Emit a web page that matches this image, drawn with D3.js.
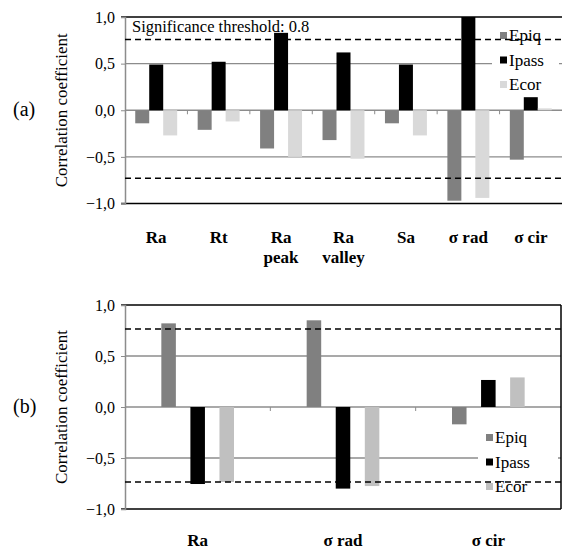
<!DOCTYPE html>
<html>
<head>
<meta charset="utf-8">
<script src="https://cdn.jsdelivr.net/npm/d3@7"></script>
</head>
<body style="margin:0">
<script>
// panel (a)
var catsA  = ["Ra", "Rt", "Ra|peak", "Ra|valley", "Sa", "\u03c3 rad", "\u03c3 cir"];
var epiqA  = [-0.14, -0.21, -0.41, -0.32, -0.14, -0.97, -0.53];
var ipassA = [0.49, 0.52, 0.83, 0.62, 0.49, 1.0, 0.14];
var ecorA  = [-0.27, -0.12, -0.50, -0.52, -0.27, -0.94, 0.02];
var threshA = [0.76, -0.73];

// panel (b)
var catsB  = ["Ra", "\u03c3 rad", "\u03c3 cir"];
var epiqB  = [0.82, 0.85, -0.17];
var ipassB = [-0.755, -0.80, 0.265];
var ecorB  = [-0.735, -0.775, 0.29];
var threshB = [0.765, -0.735];

var series = ["Epiq", "Ipass", "Ecor"];
var yTicks = [1, 0.5, 0, -0.5, -1];

var FONT = "'Liberation Serif'";
var svg = d3.select("body").append("svg")
    .attr("width", 562).attr("height", 550);

var fmt = function(v){ return d3.format(".1f")(v).replace(".", ","); };

function drawPanel(o){
  var g = svg.append("g");
  var y = d3.scaleLinear().domain([-1, 1]).range([o.bottom, o.top]);
  var x0 = d3.scaleBand().domain(o.cats).range([o.left, o.right])
      .paddingInner(o.padIn).paddingOuter(o.padOut);
  var x1 = d3.scaleBand().domain(series).range([0, x0.bandwidth()]).paddingInner(o.barPad);
  var color = d3.scaleOrdinal().domain(series).range(o.colors);
  var step = (o.right - o.left) / o.cats.length;

  // gridlines
  g.selectAll(".grid").data([0.5, 0, -0.5]).enter().append("line")
      .attr("x1", o.left).attr("x2", o.right)
      .attr("y1", function(d){ return y(d); }).attr("y2", function(d){ return y(d); })
      .attr("stroke", "#8c8c8c").attr("stroke-width", 1.3);

  // category ticks on zero line
  g.selectAll(".ctick").data(d3.range(1, o.cats.length)).enter().append("line")
      .attr("x1", function(d){ return o.left + d * step; })
      .attr("x2", function(d){ return o.left + d * step; })
      .attr("y1", y(0)).attr("y2", y(0) + 4)
      .attr("stroke", "#8c8c8c").attr("stroke-width", 1);

  // bars
  var rows = [];
  o.cats.forEach(function(c, i){
    rows.push({cat: c, s: "Epiq", v: o.epiq[i]});
    rows.push({cat: c, s: "Ipass", v: o.ipass[i]});
    rows.push({cat: c, s: "Ecor", v: o.ecor[i]});
  });
  g.selectAll(".bar").data(rows).enter().append("rect")
      .attr("x", function(d){ return x0(d.cat) + x1(d.s); })
      .attr("width", x1.bandwidth())
      .attr("y", function(d){ return y(Math.max(0, d.v)); })
      .attr("height", function(d){ return Math.abs(y(d.v) - y(0)); })
      .attr("fill", function(d){ return color(d.s); });

  // frame
  g.append("line").attr("x1", o.left - 4).attr("x2", o.right)
      .attr("y1", o.top).attr("y2", o.top).attr("stroke", "#000").attr("stroke-width", 1.5);
  g.append("line").attr("x1", o.left - 4).attr("x2", o.right)
      .attr("y1", o.bottom).attr("y2", o.bottom).attr("stroke", "#000").attr("stroke-width", 1.5);
  if (o.rightBorder) {
    g.append("line").attr("x1", o.right).attr("x2", o.right)
        .attr("y1", o.top).attr("y2", o.bottom).attr("stroke", "#000").attr("stroke-width", 1.5);
  }

  // y axis
  var ax = g.append("g").attr("transform", "translate(" + o.left + ",0)")
      .call(d3.axisLeft(y).tickValues(yTicks).tickFormat(fmt).tickSize(4).tickPadding(6));
  ax.attr("font-family", FONT).attr("font-size", 16);
  ax.select(".domain").attr("stroke", "#8c8c8c").attr("stroke-width", 1.5);
  ax.selectAll(".tick line").attr("stroke", "#8c8c8c");
  ax.selectAll(".tick text").attr("fill", "#000").attr("font-family", FONT).attr("font-size", 16);

  // legend
  var lg = g.append("g");
  lg.append("rect").attr("x", o.legX).attr("y", o.legY)
      .attr("width", o.right - 3 - o.legX).attr("height", 72).attr("fill", "#fff");
  var li = lg.selectAll(".li").data(series).enter().append("g")
      .attr("transform", function(d, i){ return "translate(" + (o.legX + 8) + "," + (o.legY + 14 + i * 24.5) + ")"; });
  li.append("rect").attr("x", 0).attr("y", -4).attr("width", 7).attr("height", 7)
      .attr("fill", function(d){ return color(d); });
  li.append("text").attr("x", 9).attr("y", 5)
      .attr("font-family", FONT).attr("font-size", 17)
      .text(function(d){ return d; });

  // threshold lines
  g.selectAll(".thr").data(o.thresh).enter().append("line")
      .attr("x1", o.left).attr("x2", o.right)
      .attr("y1", function(d){ return y(d); }).attr("y2", function(d){ return y(d); })
      .attr("stroke", "#000").attr("stroke-width", 1.5).attr("stroke-dasharray", "6,4");

  // x labels, two lines where the name has a "|"
  var xl = g.selectAll(".xl").data(o.cats).enter().append("text")
      .attr("x", function(d){ return x0(d) + x0.bandwidth() / 2; })
      .attr("y", o.labY)
      .attr("text-anchor", "middle")
      .attr("font-family", FONT).attr("font-size", 17).attr("font-weight", "bold");
  xl.each(function(d){
    var parts = d.split("|");
    var t = d3.select(this);
    parts.forEach(function(p, k){
      t.append("tspan").attr("x", t.attr("x")).attr("dy", k ? 20 : 0).text(p);
    });
  });

  // y title and panel tag
  svg.append("text")
      .attr("transform", "translate(" + o.titleX + "," + y(0) + ") rotate(-90)")
      .attr("text-anchor", "middle")
      .attr("font-family", FONT).attr("font-size", 17)
      .text("Correlation coefficient");
  svg.append("text").attr("x", 13).attr("y", y(0) + 6)
      .attr("font-family", FONT).attr("font-size", 20)
      .text(o.tag);
  return y;
}

drawPanel({
  cats: catsA, epiq: epiqA, ipass: ipassA, ecor: ecorA, thresh: threshA,
  top: 17, bottom: 203.5, left: 125, right: 562,
  padIn: 0.328, padOut: 0.164, barPad: 0,
  colors: ["#808080", "#000000", "#d9d9d9"],
  legX: 492, legY: 22, labY: 243, titleX: 67, tag: "(a)", rightBorder: false
});

svg.append("text").attr("x", 132).attr("y", 32)
    .attr("font-family", FONT).attr("font-size", 16.5)
    .text("Significance threshold: 0.8");

drawPanel({
  cats: catsB, epiq: epiqB, ipass: ipassB, ecor: ecorB, thresh: threshB,
  top: 305, bottom: 509, left: 125, right: 561,
  padIn: 0.5, padOut: 0.25, barPad: 0.5,
  colors: ["#808080", "#000000", "#c0c0c0"],
  legX: 478, legY: 424, labY: 546, titleX: 67, tag: "(b)", rightBorder: true
});
</script>
</body>
</html>
